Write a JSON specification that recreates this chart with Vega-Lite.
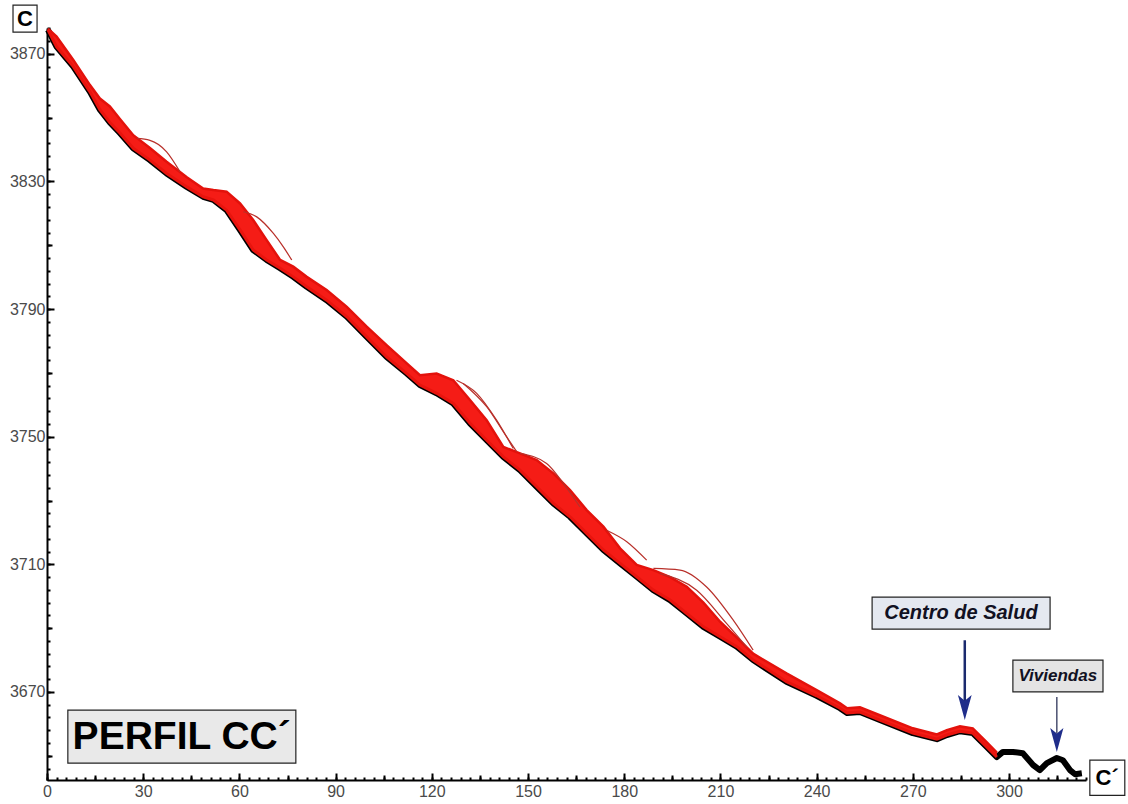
{
  "$schema": "https://vega.github.io/schema/vega-lite/v6.json",
  "width": 1039,
  "height": 752,
  "autosize": {"type": "none"},
  "padding": {"left": 47, "top": 28, "right": 42, "bottom": 24},
  "background": "white",
  "config": {"view": {"stroke": null}},
  "datasets": {
    "profile": [
      {"x": 0.3, "ground": 3877.5, "top": 3877.9},
      {"x": 3.0, "ground": 3872.2, "top": 3875.4},
      {"x": 8.2, "ground": 3866.0, "top": 3868.1},
      {"x": 13.4, "ground": 3858.1, "top": 3860.2},
      {"x": 16.5, "ground": 3852.5, "top": 3856.0},
      {"x": 19.6, "ground": 3848.5, "top": 3853.5},
      {"x": 22.8, "ground": 3845.1, "top": 3849.5},
      {"x": 26.9, "ground": 3840.4, "top": 3844.5},
      {"x": 32.1, "ground": 3836.7, "top": 3840.5},
      {"x": 37.3, "ground": 3832.5, "top": 3836.2},
      {"x": 43.6, "ground": 3828.3, "top": 3831.3},
      {"x": 48.7, "ground": 3825.2, "top": 3827.8},
      {"x": 51.9, "ground": 3824.2, "top": 3827.3},
      {"x": 56.0, "ground": 3821.0, "top": 3826.8},
      {"x": 60.2, "ground": 3814.8, "top": 3823.1},
      {"x": 64.3, "ground": 3808.5, "top": 3817.9},
      {"x": 68.5, "ground": 3805.4, "top": 3811.6},
      {"x": 72.7, "ground": 3802.8, "top": 3805.4},
      {"x": 76.8, "ground": 3800.1, "top": 3803.3},
      {"x": 81.0, "ground": 3797.0, "top": 3800.1},
      {"x": 87.2, "ground": 3792.8, "top": 3796.0},
      {"x": 93.5, "ground": 3787.6, "top": 3790.7},
      {"x": 99.7, "ground": 3781.3, "top": 3784.5},
      {"x": 105.9, "ground": 3775.0, "top": 3778.7},
      {"x": 112.2, "ground": 3769.8, "top": 3773.0},
      {"x": 116.3, "ground": 3766.2, "top": 3769.3},
      {"x": 121.5, "ground": 3763.6, "top": 3769.8},
      {"x": 126.7, "ground": 3760.4, "top": 3767.7},
      {"x": 131.9, "ground": 3754.2, "top": 3761.5},
      {"x": 137.1, "ground": 3748.9, "top": 3755.2},
      {"x": 142.3, "ground": 3743.7, "top": 3746.8},
      {"x": 147.5, "ground": 3739.5, "top": 3744.8},
      {"x": 152.7, "ground": 3734.3, "top": 3742.7},
      {"x": 157.9, "ground": 3729.1, "top": 3738.5},
      {"x": 163.1, "ground": 3724.9, "top": 3733.3},
      {"x": 168.3, "ground": 3719.7, "top": 3727.0},
      {"x": 173.5, "ground": 3714.5, "top": 3721.8},
      {"x": 178.7, "ground": 3710.3, "top": 3715.0},
      {"x": 183.9, "ground": 3706.1, "top": 3709.8},
      {"x": 189.1, "ground": 3701.9, "top": 3708.2},
      {"x": 194.3, "ground": 3698.8, "top": 3706.0},
      {"x": 199.5, "ground": 3694.6, "top": 3703.0},
      {"x": 204.7, "ground": 3690.4, "top": 3698.0},
      {"x": 209.9, "ground": 3687.3, "top": 3692.0},
      {"x": 215.1, "ground": 3684.2, "top": 3687.0},
      {"x": 220.2, "ground": 3680.0, "top": 3682.0},
      {"x": 230.6, "ground": 3673.2, "top": 3675.8},
      {"x": 240.0, "ground": 3668.8, "top": 3670.6},
      {"x": 247.3, "ground": 3664.9, "top": 3666.4},
      {"x": 249.5, "ground": 3663.4, "top": 3664.9},
      {"x": 253.5, "ground": 3663.7, "top": 3665.2},
      {"x": 259.7, "ground": 3661.2, "top": 3662.7},
      {"x": 270.0, "ground": 3657.1, "top": 3658.6},
      {"x": 277.5, "ground": 3655.2, "top": 3656.7},
      {"x": 280.6, "ground": 3656.5, "top": 3658.0},
      {"x": 284.7, "ground": 3657.7, "top": 3659.2},
      {"x": 288.7, "ground": 3657.1, "top": 3658.6},
      {"x": 293.1, "ground": 3652.7, "top": 3654.2},
      {"x": 296.2, "ground": 3649.6, "top": 3651.0},
      {"x": 298.1, "ground": 3651.2},
      {"x": 301.2, "ground": 3651.2},
      {"x": 304.3, "ground": 3650.8},
      {"x": 307.5, "ground": 3647.1},
      {"x": 309.6, "ground": 3645.5},
      {"x": 311.8, "ground": 3647.7},
      {"x": 314.9, "ground": 3649.3},
      {"x": 316.8, "ground": 3648.6},
      {"x": 319.0, "ground": 3645.5},
      {"x": 320.6, "ground": 3644.2},
      {"x": 322.7, "ground": 3644.5}
    ],
    "runs": [
      {"run": "A", "x": 28.0, "z": 3843.5},
      {"run": "A", "x": 32.1, "z": 3842.9},
      {"run": "A", "x": 37.3, "z": 3839.3},
      {"run": "A", "x": 41.5, "z": 3833.0},
      {"run": "B", "x": 61.2, "z": 3820.5},
      {"run": "B", "x": 65.4, "z": 3818.9},
      {"run": "B", "x": 70.6, "z": 3813.7},
      {"run": "B", "x": 73.7, "z": 3809.5},
      {"run": "B", "x": 76.3, "z": 3805.4},
      {"run": "C", "x": 127.7, "z": 3767.7},
      {"run": "C", "x": 134.0, "z": 3763.6},
      {"run": "C", "x": 140.2, "z": 3755.2},
      {"run": "C", "x": 145.4, "z": 3746.3},
      {"run": "C2", "x": 129.8, "z": 3766.7},
      {"run": "C2", "x": 137.1, "z": 3759.4},
      {"run": "C2", "x": 143.3, "z": 3750.0},
      {"run": "C2", "x": 146.5, "z": 3745.3},
      {"run": "D", "x": 147.5, "z": 3744.8},
      {"run": "D", "x": 155.8, "z": 3741.6},
      {"run": "D", "x": 161.0, "z": 3735.4},
      {"run": "D", "x": 166.2, "z": 3728.0},
      {"run": "E", "x": 174.5, "z": 3720.7},
      {"run": "E", "x": 180.8, "z": 3717.1},
      {"run": "E", "x": 187.0, "z": 3711.3},
      {"run": "F", "x": 189.1, "z": 3708.7},
      {"run": "F", "x": 197.4, "z": 3708.2},
      {"run": "F", "x": 205.7, "z": 3702.9},
      {"run": "F", "x": 214.0, "z": 3692.5},
      {"run": "F", "x": 220.2, "z": 3683.1},
      {"run": "F2", "x": 191.1, "z": 3707.1},
      {"run": "F2", "x": 202.6, "z": 3701.9},
      {"run": "F2", "x": 211.9, "z": 3691.5},
      {"run": "F2", "x": 218.2, "z": 3684.1}
    ],
    "boxes": [
      {"name": "C", "x1": -10.6, "x2": -3.1, "y1": 3876.8, "y2": 3885.3},
      {"name": "C´", "x1": 325.2, "x2": 336.1, "y1": 3637.6, "y2": 3648.6},
      {"name": "PERFIL CC´", "x1": 6.5, "x2": 77.6, "y1": 3647.7, "y2": 3664.3},
      {"name": "Centro de Salud", "x1": 257.3, "x2": 312.8, "y1": 3689.7, "y2": 3699.7},
      {"name": "Viviendas", "x1": 301.2, "x2": 329.3, "y1": 3670.0, "y2": 3680.0}
    ]
  },
  "resolve": {"axis": {"x": "independent", "y": "independent"}},
  "layer": [
    {
      "data": {"name": "profile"},
      "mark": {"type": "line", "color": "black", "strokeWidth": 6, "strokeJoin": "round"},
      "encoding": {
        "x": {"field": "x", "type": "quantitative", "scale": {"domain": [0, 324], "nice": false, "zero": false},
          "axis": {"orient": "bottom", "title": null, "grid": false, "values": [0, 30, 60, 90, 120, 150, 180, 210, 240, 270, 300],
            "format": "d", "tickSize": -7, "tickWidth": 2, "tickColor": "black", "domainColor": "black", "domainWidth": 2,
            "labelPadding": 10, "labelFont": "Liberation Sans", "labelFontSize": 16, "labelColor": "#4a4a4a",
            "labelFlush": false, "labelOverlap": false}},
        "y": {"field": "ground", "type": "quantitative", "scale": {"domain": [3642.4, 3878.1], "nice": false, "zero": false},
          "axis": {"orient": "left", "title": null, "grid": false, "values": [3670, 3710, 3750, 3790, 3830, 3870],
            "format": "d", "tickSize": -7, "tickWidth": 2, "tickColor": "black", "domainColor": "black", "domainWidth": 2,
            "labelPadding": 9, "labelFont": "Liberation Sans", "labelFontSize": 16, "labelColor": "#4a4a4a",
            "labelFlush": false, "labelOverlap": false}}
      }
    },
    {
      "data": {"name": "profile"},
      "transform": [{"filter": "isValid(datum.top)"}],
      "mark": {"type": "area", "color": "#f51c16", "opacity": 1},
      "encoding": {
        "x": {"field": "x", "type": "quantitative", "scale": {"domain": [0, 324], "nice": false, "zero": false},
          "axis": {"orient": "bottom", "title": null, "grid": false, "domain": false, "labels": false,
            "values": [15, 45, 75, 105, 135, 165, 195, 225, 255, 285, 315],
            "tickSize": -5, "tickWidth": 2, "tickColor": "black"}},
        "y": {"field": "ground", "type": "quantitative", "scale": {"domain": [3642.4, 3878.1], "nice": false, "zero": false},
          "axis": {"orient": "left", "title": null, "grid": false, "domain": false, "labels": false,
            "values": [3650, 3690, 3730, 3770, 3810, 3850],
            "tickSize": -5, "tickWidth": 2, "tickColor": "black"}},
        "y2": {"field": "top"}
      }
    },
    {
      "data": {"name": "profile"},
      "transform": [{"filter": "isValid(datum.top)"}],
      "mark": {"type": "line", "color": "#e3120c", "strokeWidth": 2.5},
      "encoding": {
        "x": {"field": "x", "type": "quantitative", "scale": {"domain": [0, 324], "nice": false, "zero": false}, "axis": null},
        "y": {"field": "top", "type": "quantitative", "scale": {"domain": [3642.4, 3878.1], "nice": false, "zero": false}, "axis": null}
      }
    },
    {
      "data": {"name": "profile"},
      "transform": [{"filter": "isValid(datum.top)"}],
      "mark": {"type": "line", "color": "#e8140e", "strokeWidth": 3},
      "encoding": {
        "x": {"field": "x", "type": "quantitative", "scale": {"domain": [0, 324], "nice": false, "zero": false}, "axis": null},
        "y": {"field": "ground", "type": "quantitative", "scale": {"domain": [3642.4, 3878.1], "nice": false, "zero": false}, "axis": null}
      }
    },
    {
      "data": {"name": "runs"},
      "mark": {"type": "line", "color": "#b8302a", "strokeWidth": 1.2, "interpolate": "monotone"},
      "encoding": {
        "detail": {"field": "run"},
        "x": {"field": "x", "type": "quantitative", "scale": {"domain": [0, 324], "nice": false, "zero": false},
          "axis": {"orient": "bottom", "title": null, "grid": false, "domain": false, "labels": false,
            "values": [0,3,6,9,12,15,18,21,24,27,30,33,36,39,42,45,48,51,54,57,60,63,66,69,72,75,78,81,84,87,90,93,96,99,102,105,108,111,114,117,120,123,126,129,132,135,138,141,144,147,150,153,156,159,162,165,168,171,174,177,180,183,186,189,192,195,198,201,204,207,210,213,216,219,222,225,228,231,234,237,240,243,246,249,252,255,258,261,264,267,270,273,276,279,282,285,288,291,294,297,300,303,306,309,312,315,318,321,324],
            "tickSize": -3, "tickWidth": 2, "tickColor": "black"}},
        "y": {"field": "z", "type": "quantitative", "scale": {"domain": [3642.4, 3878.1], "nice": false, "zero": false},
          "axis": {"orient": "left", "title": null, "grid": false, "domain": false, "labels": false,
            "values": [3646,3650,3654,3658,3662,3666,3670,3674,3678,3682,3686,3690,3694,3698,3702,3706,3710,3714,3718,3722,3726,3730,3734,3738,3742,3746,3750,3754,3758,3762,3766,3770,3774,3778,3782,3786,3790,3794,3798,3802,3806,3810,3814,3818,3822,3826,3830,3834,3838,3842,3846,3850,3854,3858,3862,3866,3870,3874,3878],
            "tickSize": -3, "tickWidth": 2, "tickColor": "black"}}
      }
    },
    {
      "data": {"name": "boxes"},
      "mark": {"type": "rect", "stroke": "#222222", "strokeWidth": 1.2},
      "encoding": {
        "x": {"field": "x1", "type": "quantitative", "scale": {"domain": [0, 324], "nice": false, "zero": false}, "axis": null},
        "x2": {"field": "x2"},
        "y": {"field": "y1", "type": "quantitative", "scale": {"domain": [3642.4, 3878.1], "nice": false, "zero": false}, "axis": null},
        "y2": {"field": "y2"},
        "fill": {"field": "name", "type": "nominal", "legend": null,
          "scale": {"domain": ["C", "C´", "PERFIL CC´", "Centro de Salud", "Viviendas"],
            "range": ["#ffffff", "#ffffff", "#e9e9e9", "#e4e8f0", "#e4e4e4"]}}
      }
    },
    {
      "data": {"values": [{"label": "C", "x": -6.85, "y": 3881.0}, {"label": "C´", "x": 330.6, "y": 3643.1}]},
      "mark": {"type": "text", "font": "Liberation Sans", "fontWeight": "bold", "fontSize": 22, "color": "black", "align": "center", "baseline": "middle"},
      "encoding": {
        "x": {"field": "x", "type": "quantitative", "scale": {"domain": [0, 324], "nice": false, "zero": false}, "axis": null},
        "y": {"field": "y", "type": "quantitative", "scale": {"domain": [3642.4, 3878.1], "nice": false, "zero": false}, "axis": null},
        "text": {"field": "label"}
      }
    },
    {
      "data": {"values": [{"label": "PERFIL CC´", "x": 42.0, "y": 3656.0}]},
      "mark": {"type": "text", "font": "Liberation Sans", "fontWeight": "bold", "fontSize": 39, "color": "black", "align": "center", "baseline": "middle"},
      "encoding": {
        "x": {"field": "x", "type": "quantitative", "scale": {"domain": [0, 324], "nice": false, "zero": false}, "axis": null},
        "y": {"field": "y", "type": "quantitative", "scale": {"domain": [3642.4, 3878.1], "nice": false, "zero": false}, "axis": null},
        "text": {"field": "label"}
      }
    },
    {
      "data": {"values": [{"label": "Centro de Salud", "x": 285.0, "y": 3694.7}]},
      "mark": {"type": "text", "font": "Liberation Sans", "fontWeight": "bold", "fontStyle": "italic", "fontSize": 20, "color": "#111122", "align": "center", "baseline": "middle"},
      "encoding": {
        "x": {"field": "x", "type": "quantitative", "scale": {"domain": [0, 324], "nice": false, "zero": false}, "axis": null},
        "y": {"field": "y", "type": "quantitative", "scale": {"domain": [3642.4, 3878.1], "nice": false, "zero": false}, "axis": null},
        "text": {"field": "label"}
      }
    },
    {
      "data": {"values": [{"label": "Viviendas", "x": 315.2, "y": 3675.0}]},
      "mark": {"type": "text", "font": "Liberation Sans", "fontWeight": "bold", "fontStyle": "italic", "fontSize": 17, "color": "#111122", "align": "center", "baseline": "middle"},
      "encoding": {
        "x": {"field": "x", "type": "quantitative", "scale": {"domain": [0, 324], "nice": false, "zero": false}, "axis": null},
        "y": {"field": "y", "type": "quantitative", "scale": {"domain": [3642.4, 3878.1], "nice": false, "zero": false}, "axis": null},
        "text": {"field": "label"}
      }
    },
    {
      "data": {"values": [{"x": 286.2, "from": 3686.2, "to": 3667.0}]},
      "mark": {"type": "rule", "color": "#1b2a6e", "strokeWidth": 2.5},
      "encoding": {
        "x": {"field": "x", "type": "quantitative", "scale": {"domain": [0, 324], "nice": false, "zero": false}, "axis": null},
        "y": {"field": "from", "type": "quantitative", "scale": {"domain": [3642.4, 3878.1], "nice": false, "zero": false}, "axis": null},
        "y2": {"field": "to"}
      }
    },
    {
      "data": {"values": [{"x": 314.9, "from": 3668.4, "to": 3657.0}]},
      "mark": {"type": "rule", "color": "#4a5070", "strokeWidth": 1.5},
      "encoding": {
        "x": {"field": "x", "type": "quantitative", "scale": {"domain": [0, 324], "nice": false, "zero": false}, "axis": null},
        "y": {"field": "from", "type": "quantitative", "scale": {"domain": [3642.4, 3878.1], "nice": false, "zero": false}, "axis": null},
        "y2": {"field": "to"}
      }
    },
    {
      "data": {"values": [{"x": 286.2, "y": 3665.1}]},
      "mark": {"type": "point", "filled": true, "color": "#1f2d8a", "opacity": 1, "size": 625, "shape": "M0,1L-0.55,-1L0,-0.55L0.55,-1Z"},
      "encoding": {
        "x": {"field": "x", "type": "quantitative", "scale": {"domain": [0, 324], "nice": false, "zero": false}, "axis": null},
        "y": {"field": "y", "type": "quantitative", "scale": {"domain": [3642.4, 3878.1], "nice": false, "zero": false}, "axis": null}
      }
    },
    {
      "data": {"values": [{"x": 314.9, "y": 3654.9}]},
      "mark": {"type": "point", "filled": true, "color": "#1f2d8a", "opacity": 1, "size": 576, "shape": "M0,1L-0.55,-1L0,-0.55L0.55,-1Z"},
      "encoding": {
        "x": {"field": "x", "type": "quantitative", "scale": {"domain": [0, 324], "nice": false, "zero": false}, "axis": null},
        "y": {"field": "y", "type": "quantitative", "scale": {"domain": [3642.4, 3878.1], "nice": false, "zero": false}, "axis": null}
      }
    }
  ]
}
